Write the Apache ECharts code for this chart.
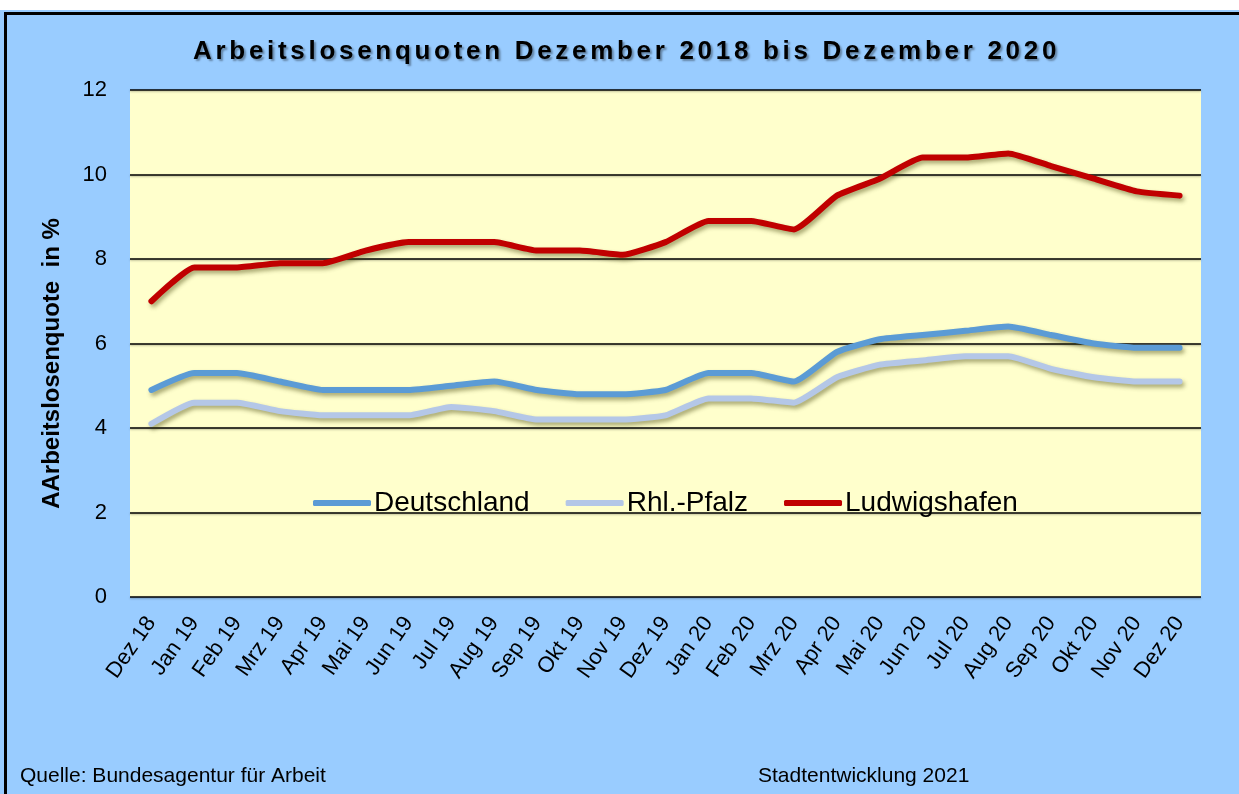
<!DOCTYPE html>
<html>
<head>
<meta charset="utf-8">
<title>Arbeitslosenquoten</title>
<script src="https://cdn.jsdelivr.net/npm/echarts@6/dist/echarts.min.js"></script>
<style>
  html, body { margin: 0; padding: 0; background: #fff; }
  #wrap { position: relative; width: 1239px; height: 794px; }
  #chart { width: 1239px; height: 794px; }
  #title { position: absolute; left: 0; top: 0; width: 1239px; height: 86px; }
</style>
</head>
<body>
<div id="wrap">
  <div id="chart"></div>
  <div id="title"></div>
</div>
<script>
var months = ["Dez 18", "Jan 19", "Feb 19", "Mrz 19", "Apr 19", "Mai 19", "Jun 19", "Jul 19", "Aug 19",
  "Sep 19", "Okt 19", "Nov 19", "Dez 19", "Jan 20", "Feb 20", "Mrz 20", "Apr 20", "Mai 20", "Jun 20",
  "Jul 20", "Aug 20", "Sep 20", "Okt 20", "Nov 20", "Dez 20"];
var deutschland = [4.9, 5.3, 5.3, 5.1, 4.9, 4.9, 4.9, 5.0, 5.1, 4.9, 4.8, 4.8, 4.9,
  5.3, 5.3, 5.1, 5.8, 6.1, 6.2, 6.3, 6.4, 6.2, 6.0, 5.9, 5.9];
var rhlPfalz = [4.1, 4.6, 4.6, 4.4, 4.3, 4.3, 4.3, 4.5, 4.4, 4.2, 4.2, 4.2, 4.3,
  4.7, 4.7, 4.6, 5.2, 5.5, 5.6, 5.7, 5.7, 5.4, 5.2, 5.1, 5.1];
var ludwigshafen = [7.0, 7.8, 7.8, 7.9, 7.9, 8.2, 8.4, 8.4, 8.4, 8.2, 8.2, 8.1, 8.4,
  8.9, 8.9, 8.7, 9.5, 9.9, 10.4, 10.4, 10.5, 10.2, 9.9, 9.6, 9.5];

var font = "Arial, 'Liberation Sans', sans-serif";

function lineSeries(name, data, color) {
  return {
    name: name,
    type: "line",
    data: data,
    smooth: 0.15,
    symbol: "none",
    lineStyle: {
      width: 6,
      color: color,
      cap: "round",
      join: "round",
      shadowColor: "rgba(60,60,0,0.45)",
      shadowBlur: 4,
      shadowOffsetX: 2,
      shadowOffsetY: 3
    },
    itemStyle: { color: color }
  };
}

var chart = echarts.init(document.getElementById("chart"));
var option = {
  backgroundColor: "#99CCFF",
  animation: false,
  textStyle: { fontFamily: font },
  graphic: [
    { type: "rect", left: 0, top: 0, shape: { width: 1239, height: 10 }, style: { fill: "#fff" }, silent: true },
    { type: "rect", left: 3, top: 11, shape: { width: 1300, height: 900 },
      style: { fill: "none", stroke: "#000", lineWidth: 3 }, silent: true },
    { type: "text", left: 20, top: 766, style: { text: "Quelle: Bundesagentur für Arbeit", fontSize: 21, fontFamily: font, fill: "#000" } },
    { type: "text", left: 758, top: 766, style: { text: "Stadtentwicklung 2021", fontSize: 21, fontFamily: font, fill: "#000" } }
  ],
  legend: {
    data: ["Deutschland", "Rhl.-Pfalz", "Ludwigshafen"],
    left: 308,
    top: 484,
    icon: "roundRect",
    itemWidth: 58,
    itemHeight: 6,
    itemGap: 36,
    textStyle: { fontSize: 28, color: "#000", fontFamily: font, padding: [0, 0, 0, -2] }
  },
  grid: {
    left: 130,
    right: 38,
    top: 90,
    bottom: 197,
    show: true,
    backgroundColor: "#FFFFCC",
    borderWidth: 0
  },
  xAxis: {
    type: "category",
    data: months,
    boundaryGap: true,
    axisLine: { show: false },
    axisTick: { show: false },
    axisLabel: { rotate: 55, fontSize: 22, color: "#000", margin: 22, interval: 0, fontFamily: font }
  },
  yAxis: {
    type: "value",
    min: 0,
    max: 12,
    interval: 2,
    name: "AArbeitslosenquote  in %",
    nameLocation: "middle",
    nameGap: 66,
    nameRotate: 90,
    nameTextStyle: { fontSize: 24, fontWeight: "bold", color: "#000", fontFamily: font, padding: [0, 40, 0, 0] },
    axisLine: { show: false },
    axisTick: { show: false },
    axisLabel: { fontSize: 22, color: "#000", margin: 23, fontFamily: font },
    splitLine: {
      lineStyle: {
        color: "#000",
        width: 1.5,
        shadowColor: "rgba(0,0,0,0.3)",
        shadowBlur: 2,
        shadowOffsetY: 1
      }
    }
  },
  series: [
    lineSeries("Deutschland", deutschland, "#5B9BD5"),
    lineSeries("Rhl.-Pfalz", rhlPfalz, "#B4C7E7"),
    lineSeries("Ludwigshafen", ludwigshafen, "#C00000")
  ]
};
chart.setOption(option);

// Titel als eigene Ebene, damit der Buchstabenabstand nur dort greift
var titleChart = echarts.init(document.getElementById("title"));
titleChart.setOption({
  animation: false,
  title: {
    text: "Arbeitslosenquoten Dezember 2018 bis Dezember 2020",
    left: 188,
    top: 34,
    textStyle: {
      fontSize: 26,
      fontWeight: "bold",
      fontFamily: font,
      color: "#000",
      textShadowColor: "rgba(0,0,0,0.35)",
      textShadowBlur: 2,
      textShadowOffsetX: 2,
      textShadowOffsetY: 2
    }
  }
});
var titleCanvas = document.querySelector("#title canvas");
if (titleCanvas) {
  titleCanvas.getContext("2d").letterSpacing = "3.7px";
  titleChart.getZr().painter.refresh(true);
}

window.addEventListener("resize", function () {
  chart.resize();
  titleChart.resize();
});
</script>
</body>
</html>
